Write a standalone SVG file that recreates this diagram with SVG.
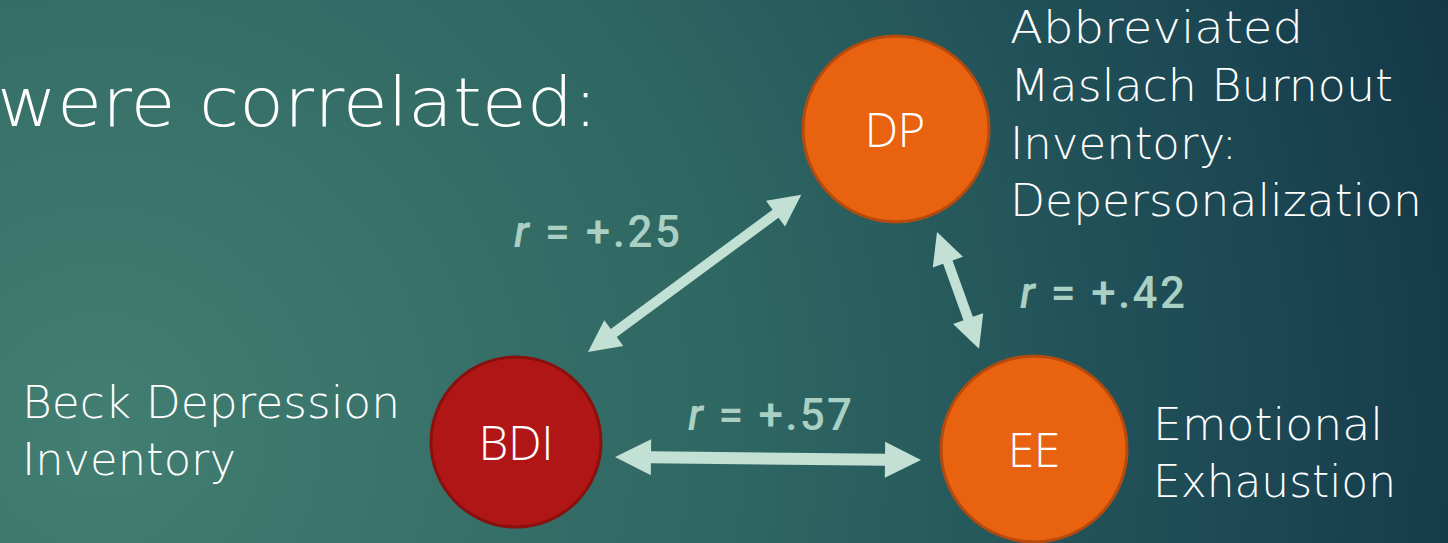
<svg xmlns="http://www.w3.org/2000/svg" width="1448" height="543" viewBox="0 0 1448 543">
<defs>
<radialGradient id="bg" cx="100" cy="430" r="1450" gradientUnits="userSpaceOnUse">
<stop offset="0" stop-color="#427E71"/>
<stop offset="0.45" stop-color="#2E6662"/>
<stop offset="0.8" stop-color="#1C4854"/>
<stop offset="1" stop-color="#133545"/>
</radialGradient>
<style>
.lbl{font-family:"DejaVu Sans","Liberation Sans",sans-serif;font-weight:200;fill:#FFFFFF;font-size:44px;}
.title{font-family:"DejaVu Sans","Liberation Sans",sans-serif;font-weight:200;fill:#FFFFFF;font-size:68px;}
.node{font-family:"Open Sans","Liberation Sans",sans-serif;font-weight:300;fill:#FFFFFF;font-size:47px;text-anchor:middle;}
.r{font-family:Roboto,"Liberation Sans",sans-serif;font-weight:500;fill:#A9D0C2;font-size:44px;}
.arr{fill:#C2E0D4;}
</style>
</defs>
<rect width="1448" height="543" fill="url(#bg)"/>
<text class="title" x="-3" y="126" textLength="601" lengthAdjust="spacingAndGlyphs">were correlated:</text>

<g id="connectors">
<!-- DP-BDI -->
<g transform="translate(588,352) rotate(-36.4)">
<polygon class="arr" points="0,0 32,-16 32,-5 233,-5 233,-16 265,0 233,16 233,5 32,5 32,16"/>
</g>
<!-- BDI-EE -->
<g transform="translate(615,457) rotate(0.56)">
<polygon class="arr" points="0,0 36,-18 36,-6 270,-6 270,-18 306,0 270,18 270,6 36,6 36,18"/>
</g>
<!-- DP-EE -->
<g transform="translate(937,232) rotate(70.2)">
<polygon class="arr" points="0,0 32,-16 32,-5 92,-5 92,-16 124,0 92,16 92,5 32,5 32,16"/>
</g>
</g>

<g id="labels-r">
<text class="r" x="514" y="247" textLength="166" lengthAdjust="spacing"><tspan font-style="italic">r</tspan> = +.25</text>
<text class="r" x="1020" y="308" textLength="165" lengthAdjust="spacing"><tspan font-style="italic">r</tspan> = +.42</text>
<text class="r" x="688" y="430" textLength="164" lengthAdjust="spacing"><tspan font-style="italic">r</tspan> = +.57</text>
</g>

<g id="DP">
<circle cx="896" cy="129" r="93" fill="#E86210" stroke="#B44A0E" stroke-width="3"/>
<text class="node" x="895" y="147">DP</text>
</g>
<g id="BDI">
<circle cx="516" cy="442" r="85" fill="#B01616" stroke="#8A1010" stroke-width="3"/>
<text class="node" x="516" y="460">BDI</text>
</g>
<g id="EE">
<circle cx="1034" cy="449" r="93" fill="#E86210" stroke="#B44A0E" stroke-width="3"/>
<text class="node" x="1034" y="467">EE</text>
</g>

<g id="DP-label">
<text class="lbl" x="1010" y="43" textLength="293" lengthAdjust="spacingAndGlyphs">Abbreviated</text>
<text class="lbl" x="1010" y="101" textLength="383" lengthAdjust="spacingAndGlyphs">Maslach Burnout</text>
<text class="lbl" x="1010" y="159" textLength="227" lengthAdjust="spacingAndGlyphs">Inventory:</text>
<text class="lbl" x="1010" y="216" textLength="412" lengthAdjust="spacingAndGlyphs">Depersonalization</text>
</g>
<g id="BDI-label">
<text class="lbl" x="22" y="418" textLength="378" lengthAdjust="spacingAndGlyphs">Beck Depression</text>
<text class="lbl" x="22" y="475" textLength="214" lengthAdjust="spacingAndGlyphs">Inventory</text>
</g>
<g id="EE-label">
<text class="lbl" x="1153" y="440" textLength="230" lengthAdjust="spacingAndGlyphs">Emotional</text>
<text class="lbl" x="1153" y="497" textLength="243" lengthAdjust="spacingAndGlyphs">Exhaustion</text>
</g>
</svg>
